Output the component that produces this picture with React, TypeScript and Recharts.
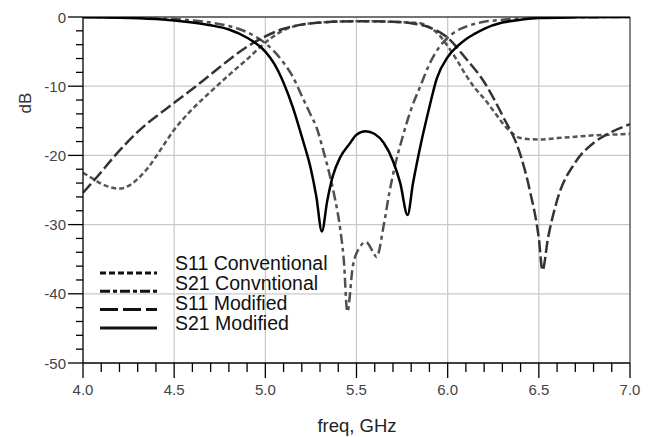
import React from 'react';
import { LineChart, Line, XAxis, YAxis, CartesianGrid, ReferenceLine, Legend } from 'recharts';

// ---- data (freq in GHz, value in dB) ----
const s11Conventional: [number, number][] = [
  [4.0, -22.5], [4.05, -23.3], [4.1, -24.1], [4.15, -24.6], [4.2, -24.8], [4.25, -24.4], [4.3, -23.4],
  [4.35, -22.0], [4.4, -20.2], [4.45, -18.2], [4.5, -16.3], [4.6, -13.3], [4.7, -10.8], [4.8, -8.4],
  [4.9, -6.1], [5.0, -3.7], [5.1, -1.9], [5.2, -1.1], [5.3, -0.8], [5.5, -0.6], [5.7, -0.7], [5.8, -0.8],
  [5.85, -0.9], [5.9, -1.5], [5.95, -2.5], [6.0, -4.2], [6.05, -6.2], [6.1, -8.4], [6.15, -10.3],
  [6.2, -11.8], [6.25, -13.5], [6.3, -15.3], [6.35, -16.7], [6.4, -17.5], [6.5, -17.7], [6.6, -17.5],
  [6.7, -17.3], [6.8, -17.1], [6.9, -17.0], [7.0, -16.9],
];
const s21Conventional: [number, number][] = [
  [4.0, 0], [4.2, -0.05], [4.4, -0.15], [4.5, -0.3], [4.6, -0.5], [4.7, -0.8], [4.8, -1.3], [4.9, -2.2],
  [5.0, -3.8], [5.05, -5.0], [5.1, -6.6], [5.15, -8.6], [5.2, -11.4], [5.25, -14.2], [5.28, -15.9],
  [5.32, -19.5], [5.35, -22.5], [5.38, -26.0], [5.41, -30.5], [5.43, -35.0], [5.45, -42.6], [5.48, -36.0],
  [5.52, -33.2], [5.55, -32.5], [5.59, -33.9], [5.61, -34.7], [5.65, -30.0], [5.68, -25.4], [5.71, -21.6],
  [5.75, -17.6], [5.8, -13.3], [5.85, -10.0], [5.9, -6.8], [5.95, -4.5], [6.0, -3.0], [6.05, -2.0],
  [6.1, -1.4], [6.2, -0.7], [6.3, -0.4], [6.5, -0.1], [7.0, 0],
];
const s11Modified: [number, number][] = [
  [4.0, -25.4], [4.1, -22.4], [4.17, -20.2], [4.3, -16.6], [4.5, -12.4], [4.6, -10.4], [4.71, -8.1],
  [4.8, -6.2], [4.9, -4.3], [5.0, -2.8], [5.1, -1.7], [5.2, -1.1], [5.3, -0.8], [5.5, -0.6], [5.7, -0.7],
  [5.8, -0.9], [5.9, -1.5], [6.0, -3.0], [6.1, -6.0], [6.2, -9.4], [6.3, -14.2], [6.4, -20.0],
  [6.45, -25.0], [6.5, -32.0], [6.52, -36.6], [6.55, -32.0], [6.6, -26.5], [6.7, -21.0], [6.8, -18.2],
  [6.9, -16.6], [7.0, -15.5],
];
const s21Modified: [number, number][] = [
  [4.0, -0.05], [4.2, -0.1], [4.4, -0.3], [4.5, -0.5], [4.6, -0.8], [4.7, -1.2], [4.8, -1.8], [4.9, -3.0],
  [5.0, -5.0], [5.05, -6.8], [5.1, -9.5], [5.15, -13.0], [5.2, -17.3], [5.25, -22.0], [5.28, -26.0],
  [5.31, -31.0], [5.34, -26.5], [5.37, -23.0], [5.41, -20.3], [5.46, -18.4], [5.5, -17.0], [5.55, -16.5],
  [5.6, -16.9], [5.65, -18.2], [5.7, -20.8], [5.74, -24.0], [5.78, -28.6], [5.81, -24.0], [5.85, -18.7],
  [5.9, -13.0], [5.94, -8.9], [6.0, -5.8], [6.05, -4.3], [6.1, -3.2], [6.15, -2.4], [6.2, -1.7],
  [6.3, -0.8], [6.4, -0.4], [6.5, -0.15], [6.7, -0.05], [7.0, 0],
];

const seriesNames = ['S11 Conventional', 'S21 Convntional', 'S11 Modified', 'S21 Modified'];
const xMajorTicks = [4.0, 4.5, 5.0, 5.5, 6.0, 6.5, 7.0];
const yMajorTicks = [0, -10, -20, -30, -40, -50];
const xGrid = [4.5, 5.0, 5.5, 6.0, 6.5];
const yGrid = [-10, -20, -30, -40];
const X_DOMAIN: [number, number] = [4, 7];
const Y_DOMAIN: [number, number] = [-50, 0];

const xTicks = Array.from({ length: 31 }, (_, i) => Math.round((4 + i * 0.1) * 10) / 10);
const yTicks = Array.from({ length: 26 }, (_, i) => -i * 2);

const toRows = (pts: [number, number][]) => pts.map(([f, db]) => ({ f, db }));

const styles = [
  { stroke: '#555', dash: '5 3', width: 2.5, legendDash: '6 3' },
  { stroke: '#505050', dash: '10 4 4 4', width: 2.5, legendDash: '10 3 4 3' },
  { stroke: '#333', dash: '12 4', width: 2.5, legendDash: '18 5' },
  { stroke: '#000', dash: undefined as string | undefined, width: 2.5, legendDash: undefined as string | undefined },
];
const seriesData = [s11Conventional, s21Conventional, s11Modified, s21Modified].map(toRows);

const FONT = '"Liberation Sans", Arial, Helvetica, sans-serif';

const isMajorX = (v: number) => xMajorTicks.some((m) => Math.abs(m - v) < 1e-6);
const isMajorY = (v: number) => yMajorTicks.some((m) => Math.abs(m - v) < 1e-6);

const XTick = (props: any) => {
  const { x, y, payload } = props;
  const v = payload.value as number;
  const major = isMajorX(v);
  return (
    <g>
      <line x1={x} x2={x} y1={y} y2={y + (major ? 15 : 9)} stroke="#000" strokeWidth={1.3} />
      {major && (
        <text x={x} y={y + 32} textAnchor="middle" fontSize={15} fill="#444" fontFamily={FONT}>
          {v.toFixed(1)}
        </text>
      )}
    </g>
  );
};

const YTick = (props: any) => {
  const { x, y, payload } = props;
  const v = payload.value as number;
  const major = isMajorY(v);
  return (
    <g>
      <line x1={x - (major ? 15 : 7)} x2={x} y1={y} y2={y} stroke="#000" strokeWidth={1.3} />
      {major && (
        <text x={x - 17} y={y + 5.5} textAnchor="end" fontSize={15} fill="#444" fontFamily={FONT}>
          {String(v)}
        </text>
      )}
    </g>
  );
};

const LegendBox = () => (
  <svg width={260} height={90} style={{ overflow: 'visible' }}>
    {seriesNames.map((name, i) => {
      const s = styles[i];
      const ly = 23 + i * 18.3;
      return (
        <g key={name}>
          <line x1={5} x2={62} y1={ly} y2={ly} stroke="#111" strokeWidth={3} strokeDasharray={s.legendDash} />
          <text x={80} y={20 + i * 20} fontSize={19.5} fill="#111" fontFamily={FONT}>
            {name}
          </text>
        </g>
      );
    })}
  </svg>
);

const gridY = ({ offset }: any) =>
  yGrid.map((v) => offset.top + ((Y_DOMAIN[1] - v) / (Y_DOMAIN[1] - Y_DOMAIN[0])) * offset.height);
const gridX = ({ offset }: any) =>
  xGrid.map((v) => offset.left + ((v - X_DOMAIN[0]) / (X_DOMAIN[1] - X_DOMAIN[0])) * offset.width);

export default function App() {
  return (
    <div style={{ position: 'absolute', left: 0, top: 0, width: 659, height: 437, background: '#fff' }}>
      <LineChart width={659} height={437} margin={{ top: 17, right: 29, left: 0, bottom: 0 }}>
        <CartesianGrid
          stroke="#c8c8c8"
          strokeWidth={1.2}
          horizontalCoordinatesGenerator={gridY}
          verticalCoordinatesGenerator={gridX}
        />
        <XAxis
          dataKey="f"
          type="number"
          domain={X_DOMAIN}
          ticks={xTicks}
          interval={0}
          allowDataOverflow
          height={74}
          tickSize={0}
          tickMargin={0}
          tickLine={false}
          axisLine={{ stroke: '#000', strokeWidth: 1.3 }}
          tick={<XTick />}
          label={() => (
            <text x={357} y={432} textAnchor="middle" fontSize={18.5} fill="#222" fontFamily={FONT}>
              freq, GHz
            </text>
          )}
        />
        <YAxis
          type="number"
          domain={Y_DOMAIN}
          ticks={yTicks}
          interval={0}
          allowDataOverflow
          width={83}
          tickSize={0}
          tickMargin={0}
          tickLine={false}
          axisLine={{ stroke: '#000', strokeWidth: 1.3 }}
          tick={<YTick />}
          label={() => (
            <text
              x={25}
              y={103}
              transform="rotate(-90 25 103)"
              textAnchor="middle"
              dominantBaseline="central"
              fontSize={17}
              fill="#333"
              fontFamily={FONT}
            >
              dB
            </text>
          )}
        />
        <ReferenceLine y={0} stroke="#444" strokeWidth={1.3} />
        <ReferenceLine x={7} stroke="#444" strokeWidth={1.3} />
        {seriesData.map((rows, i) => (
          <Line
            key={seriesNames[i]}
            name={seriesNames[i]}
            data={rows}
            dataKey="db"
            type="monotone"
            dot={false}
            activeDot={false}
            stroke={styles[i].stroke}
            strokeWidth={styles[i].width}
            strokeDasharray={styles[i].dash}
            isAnimationActive={false}
          />
        ))}
        <Legend
          layout="vertical"
          align="center"
          verticalAlign="middle"
          wrapperStyle={{ left: 95, top: 250, width: 260, height: 90 }}
          content={() => <LegendBox />}
        />
      </LineChart>
    </div>
  );
}
